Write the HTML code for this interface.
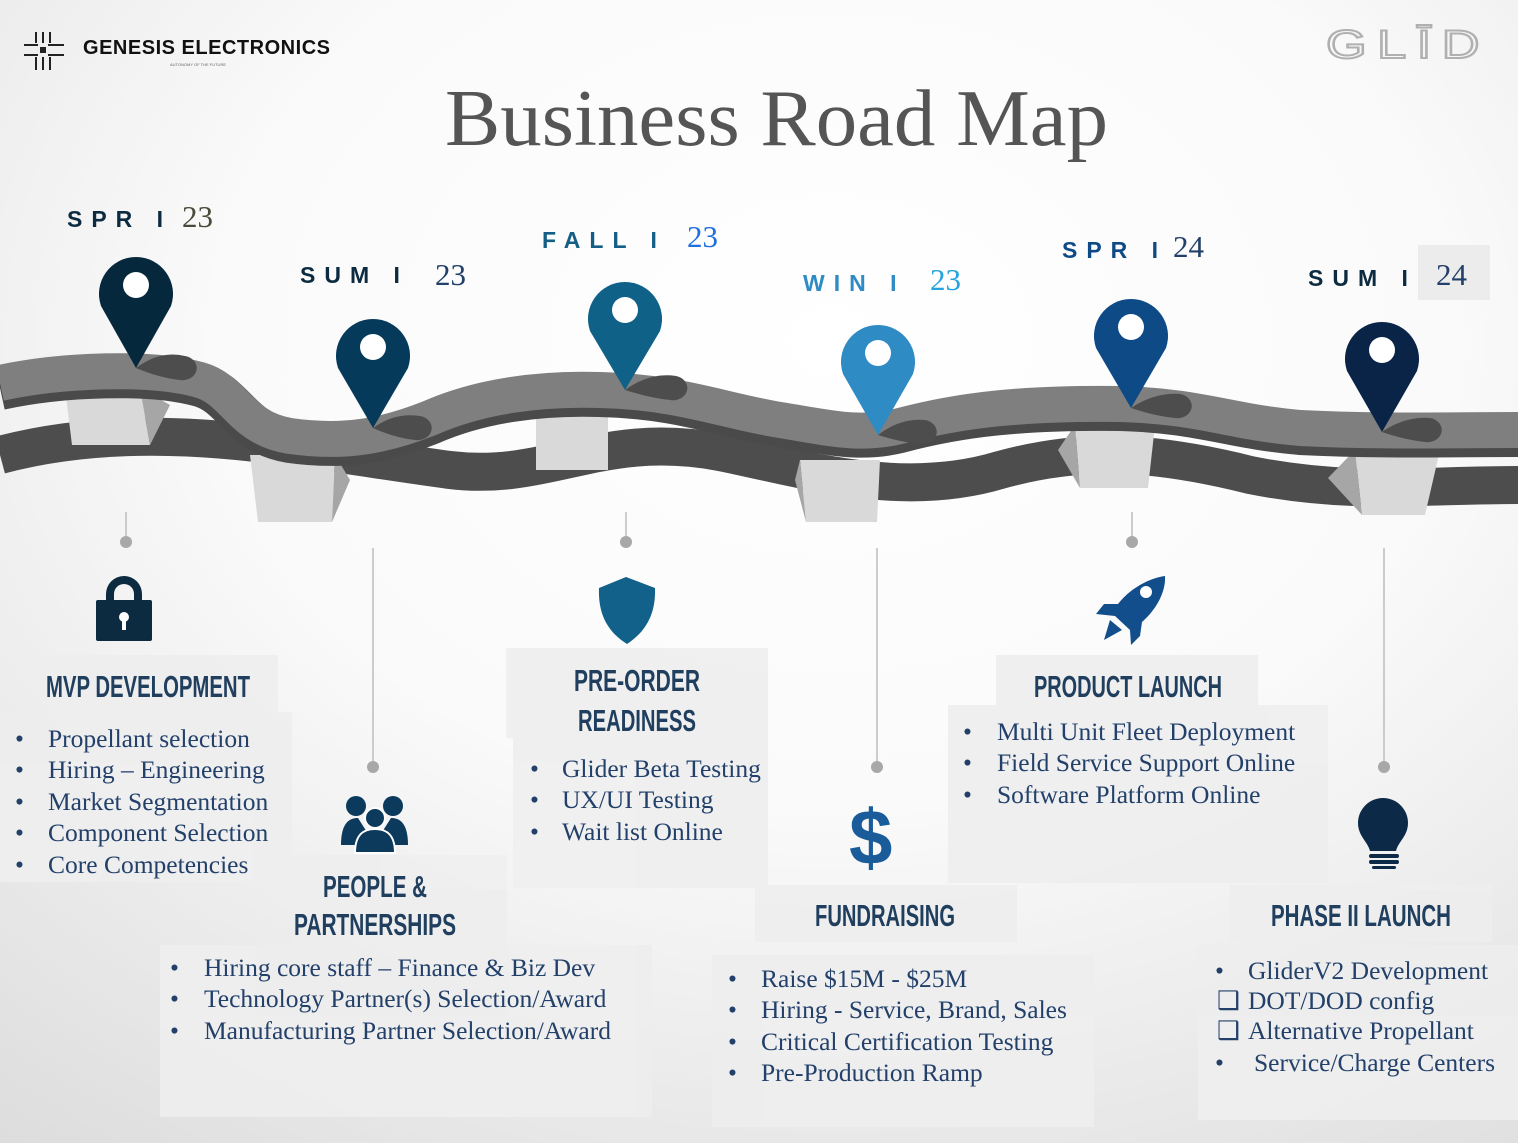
<!DOCTYPE html>
<html><head><meta charset="utf-8"><style>
html,body{margin:0;padding:0;width:1518px;height:1143px;overflow:hidden}
svg{display:block}
.t{font-family:"Liberation Sans Narrow","Liberation Sans",sans-serif;font-weight:bold;fill:#203f5f;font-size:31px}
.b{font-family:"Liberation Serif",serif;fill:#22406a;font-size:25.5px}
.s{font-family:"Liberation Sans",sans-serif;font-weight:bold;font-size:23px}
.n{font-family:"Liberation Serif",serif;font-size:31px}
</style></head><body>
<svg width="1518" height="1143" viewBox="0 0 1518 1143" xmlns="http://www.w3.org/2000/svg">
<defs>
<radialGradient id="bg" cx="0.55" cy="0.3" r="0.9">
<stop offset="0" stop-color="#ffffff"/><stop offset="0.45" stop-color="#fafafa"/><stop offset="1" stop-color="#dcdcdc"/>
</radialGradient>
</defs>
<rect width="1518" height="1143" fill="url(#bg)"/>

<g fill="#222" stroke="#222" stroke-width="2">
<rect x="40" y="47" width="6" height="6" stroke="none"/>
<line x1="24" y1="45" x2="38" y2="45"/><line x1="24" y1="55" x2="38" y2="55"/>
<line x1="48" y1="45" x2="64" y2="45"/><line x1="48" y1="55" x2="64" y2="55"/>
<line x1="36" y1="32" x2="36" y2="43"/><line x1="43" y1="32" x2="43" y2="43"/><line x1="50" y1="32" x2="50" y2="43"/>
<line x1="36" y1="57" x2="36" y2="70"/><line x1="43" y1="57" x2="43" y2="70"/><line x1="50" y1="57" x2="50" y2="70"/>
</g>
<text x="83" y="54" font-family="Liberation Sans,sans-serif" font-weight="bold" font-size="20" fill="#111" textLength="247">GENESIS ELECTRONICS</text>
<text x="170" y="66" font-family="Liberation Sans,sans-serif" font-size="4" fill="#666">AUTONOMY OF THE FUTURE</text>
<text x="1326" y="58" font-family="Liberation Sans,sans-serif" font-size="40" fill="none" stroke="#b0b0b0" stroke-width="2" letter-spacing="8" textLength="164" lengthAdjust="spacingAndGlyphs">GLĪD</text>

<text x="445" y="145" font-family="Liberation Serif,serif" font-size="80" fill="#555" textLength="663" lengthAdjust="spacingAndGlyphs">Business Road Map</text>

<text class="s" x="67" y="227" fill="#0c2a40" letter-spacing="9">SPR I</text><text class="n" x="182" y="227" fill="#4a4a3a">23</text>
<text class="s" x="300" y="283" fill="#0c2a40" letter-spacing="9">SUM I</text><text class="n" x="435" y="285" fill="#23406a">23</text>
<text class="s" x="542" y="248" fill="#155f86" letter-spacing="9">FALL I</text><text class="n" x="687" y="247" fill="#1f6fe0">23</text>
<text class="s" x="803" y="291" fill="#2e8bc4" letter-spacing="9">WIN I</text><text class="n" x="930" y="290" fill="#24a3df">23</text>
<text class="s" x="1062" y="258" fill="#0e4a86" letter-spacing="9">SPR I</text><text class="n" x="1173" y="257" fill="#23406a">24</text>
<rect x="1418" y="245" width="72" height="55" fill="#ececec"/>
<text class="s" x="1308" y="286" fill="#0c2a40" letter-spacing="9">SUM I</text><text class="n" x="1436" y="285" fill="#23406a">24</text>

<path d="M0,455 C150,415 300,450 450,470 C550,482 600,430 720,452 C800,468 900,500 1000,470 C1080,448 1150,450 1250,475 C1350,495 1420,485 1518,485" fill="none" stroke="#4d4d4d" stroke-width="38"/>
<g>
<polygon points="65,388 140,388 150,445 72,445" fill="#d9d9d9"/><polygon points="140,388 170,405 150,445" fill="#a6a6a6"/>
<polygon points="250,455 335,455 332,522 258,522" fill="#d9d9d9"/><polygon points="335,455 350,480 332,522" fill="#a6a6a6"/>
<polygon points="536,405 608,405 608,470 536,470" fill="#d9d9d9"/>
<polygon points="800,460 880,460 877,522 806,522" fill="#d9d9d9"/><polygon points="800,460 806,522 795,480" fill="#a6a6a6"/>
<polygon points="1075,425 1155,425 1148,488 1080,488" fill="#d9d9d9"/><polygon points="1075,425 1080,488 1058,450" fill="#a6a6a6"/>
<polygon points="1355,450 1440,450 1425,515 1362,515" fill="#d9d9d9"/><polygon points="1355,450 1362,515 1328,478" fill="#a6a6a6"/>
</g>
<path d="M0,383 C60,370 150,366 200,380 C235,390 240,428 290,436 C340,443 380,438 430,418 C480,396 540,388 600,390 C680,392 720,410 780,420 C830,428 860,436 900,426 C960,410 1020,403 1120,404 C1200,406 1230,422 1300,428 C1380,432 1450,430 1518,430" fill="none" stroke="#4a4a4a" stroke-width="44" transform="translate(0,5)"/>
<path d="M0,383 C60,370 150,366 200,380 C235,390 240,428 290,436 C340,443 380,438 430,418 C480,396 540,388 600,390 C680,392 720,410 780,420 C830,428 860,436 900,426 C960,410 1020,403 1120,404 C1200,406 1230,422 1300,428 C1380,432 1450,430 1518,430" fill="none" stroke="#7f7f7f" stroke-width="36"/>
<g fill="#4d4d4d">
<path d="M136,368 Q160,350 185,356 A14 12 0 0 1 180,380 Q160,378 136,368Z"/>
<path d="M373,428 Q395,412 420,416 A14 12 0 0 1 415,440 Q395,438 373,428Z"/>
<path d="M625,390 Q650,372 676,376 A14 12 0 0 1 670,400 Q650,398 625,390Z"/>
<path d="M878,435 Q900,418 925,420 A14 12 0 0 1 920,444 Q900,442 878,435Z"/>
<path d="M1131,408 Q1155,392 1180,394 A14 12 0 0 1 1175,418 Q1155,416 1131,408Z"/>
<path d="M1382,432 Q1405,416 1430,418 A14 12 0 0 1 1425,442 Q1405,440 1382,432Z"/>
</g>
<g>
<path d="M136,368 L101,306 A37 37 0 1 1 171,306 Z" fill="#06283d"/><circle cx="136" cy="285" r="13" fill="#fff"/>
<path d="M373,428 L338,368 A37 37 0 1 1 408,368 Z" fill="#063a5a"/><circle cx="373" cy="347" r="13" fill="#fff"/>
<path d="M625,390 L590,331 A37 37 0 1 1 660,331 Z" fill="#0f6187"/><circle cx="625" cy="310" r="13" fill="#fff"/>
<path d="M878,435 L843,374 A37 37 0 1 1 913,374 Z" fill="#2e8bc4"/><circle cx="878" cy="353" r="13" fill="#fff"/>
<path d="M1131,408 L1096,348 A37 37 0 1 1 1166,348 Z" fill="#0d4a86"/><circle cx="1131" cy="327" r="13" fill="#fff"/>
<path d="M1382,432 L1347,371 A37 37 0 1 1 1417,371 Z" fill="#0a2448"/><circle cx="1382" cy="350" r="13" fill="#fff"/>
</g>

<g stroke="#bdbdbd" stroke-width="1.5">
<line x1="126" y1="512" x2="126" y2="540"/><line x1="626" y1="512" x2="626" y2="540"/><line x1="1132" y1="512" x2="1132" y2="540"/>
<line x1="373" y1="548" x2="373" y2="765"/><line x1="877" y1="548" x2="877" y2="765"/><line x1="1384" y1="548" x2="1384" y2="765"/>
</g>
<g fill="#a8a8a8">
<circle cx="126" cy="542" r="6"/><circle cx="626" cy="542" r="6"/><circle cx="1132" cy="542" r="6"/>
<circle cx="373" cy="767" r="6"/><circle cx="877" cy="767" r="6"/><circle cx="1384" cy="767" r="6"/>
</g>

<g fill="#eeeeee" opacity="0.85">
<rect x="18" y="655" width="260" height="57"/><rect x="0" y="712" width="292" height="170"/>
<rect x="292" y="855" width="215" height="92"/><rect x="160" y="945" width="492" height="172"/>
<rect x="506" y="648" width="262" height="90"/><rect x="513" y="738" width="255" height="150"/>
<rect x="755" y="885" width="262" height="57"/><rect x="712" y="955" width="382" height="172"/>
<rect x="996" y="655" width="262" height="50"/><rect x="948" y="705" width="380" height="178"/>
<rect x="1230" y="885" width="262" height="57"/><rect x="1198" y="945" width="320" height="175"/>
</g>

<g fill="#0c2a40">
<path d="M106,600 V594 A18 18 0 0 1 142,594 V600 H134 V594 A10 10 0 0 0 114,594 V600Z"/>
<rect x="96" y="600" width="56" height="41" rx="2"/>
</g>
<circle cx="124" cy="617" r="5" fill="#fff"/><rect x="122" y="618" width="4" height="12" fill="#fff"/>
<path d="M626,577 L655,588 C656,615 645,632 627,644 C608,632 598,615 599,588Z" fill="#11618a"/>
<g fill="#0c3a5c">
<circle cx="356" cy="806" r="10"/><circle cx="393" cy="806" r="10"/>
<path d="M341,845 C341,822 350,818 358,818 L372,840 L372,845Z"/><path d="M408,845 C408,822 399,818 391,818 L377,840 L377,845Z"/>
<circle cx="375" cy="818" r="11" fill="#fff"/><circle cx="375" cy="818" r="9"/>
<path d="M355,853 C355,835 363,829 375,829 C387,829 395,835 395,853Z" stroke="#fff" stroke-width="2"/>
</g>
<text x="849" y="864" font-family="Liberation Sans,sans-serif" font-weight="bold" font-size="78" fill="#1a5c99">$</text>
<g fill="#124e8c">
<path d="M1165,576 C1150,578 1130,588 1118,604 L1104,604 L1096,614 L1115,616 L1130,630 L1131,645 L1140,636 L1142,622 C1158,608 1166,590 1165,576Z"/>
<path d="M1110,620 L1122,630 L1104,640Z"/>
</g>
<circle cx="1146" cy="592" r="6" fill="#fff"/>
<g fill="#0c2a48">
<path d="M1383,798 A25 25 0 0 1 1408,823 C1408,836 1398,842 1396,851 H1370 C1368,842 1358,836 1358,823 A25 25 0 0 1 1383,798Z"/>
<rect x="1369" y="854" width="30" height="4" rx="2"/><rect x="1369" y="860" width="30" height="4" rx="2"/><rect x="1372" y="866" width="24" height="3" rx="1.5"/>
</g>

<g class="t" text-anchor="middle">
<text x="148" y="697" textLength="204" lengthAdjust="spacingAndGlyphs">MVP DEVELOPMENT</text>
<text x="375" y="897" textLength="104" lengthAdjust="spacingAndGlyphs">PEOPLE &amp;</text>
<text x="375" y="935" textLength="162" lengthAdjust="spacingAndGlyphs">PARTNERSHIPS</text>
<text x="637" y="691" textLength="126" lengthAdjust="spacingAndGlyphs">PRE-ORDER</text>
<text x="637" y="731" textLength="118" lengthAdjust="spacingAndGlyphs">READINESS</text>
<text x="885" y="926" textLength="140" lengthAdjust="spacingAndGlyphs">FUNDRAISING</text>
<text x="1128" y="697" textLength="188" lengthAdjust="spacingAndGlyphs">PRODUCT LAUNCH</text>
<text x="1361" y="926" textLength="180" lengthAdjust="spacingAndGlyphs">PHASE II LAUNCH</text>
</g>

<g class="b">
<text x="15" y="747">•</text><text x="48" y="747">Propellant selection</text>
<text x="15" y="778">•</text><text x="48" y="778">Hiring – Engineering</text>
<text x="15" y="810">•</text><text x="48" y="810">Market Segmentation</text>
<text x="15" y="841">•</text><text x="48" y="841">Component Selection</text>
<text x="15" y="873">•</text><text x="48" y="873">Core Competencies</text>

<text x="170" y="976">•</text><text x="204" y="976">Hiring core staff – Finance &amp; Biz Dev</text>
<text x="170" y="1007">•</text><text x="204" y="1007">Technology Partner(s) Selection/Award</text>
<text x="170" y="1039">•</text><text x="204" y="1039">Manufacturing Partner Selection/Award</text>

<text x="530" y="777">•</text><text x="562" y="777">Glider Beta Testing</text>
<text x="530" y="808">•</text><text x="562" y="808">UX/UI Testing</text>
<text x="530" y="840">•</text><text x="562" y="840">Wait list Online</text>

<text x="728" y="987">•</text><text x="761" y="987">Raise  $15M - $25M</text>
<text x="728" y="1018">•</text><text x="761" y="1018">Hiring  - Service, Brand, Sales</text>
<text x="728" y="1050">•</text><text x="761" y="1050">Critical Certification Testing</text>
<text x="728" y="1081">•</text><text x="761" y="1081">Pre-Production Ramp</text>

<text x="963" y="740">•</text><text x="997" y="740">Multi Unit Fleet Deployment</text>
<text x="963" y="771">•</text><text x="997" y="771">Field Service Support Online</text>
<text x="963" y="803">•</text><text x="997" y="803">Software Platform Online</text>

<text x="1215" y="979">•</text><text x="1248" y="979">GliderV2  Development</text>
<text x="1217" y="1009">❑</text><text x="1248" y="1009">DOT/DOD config</text>
<text x="1217" y="1039">❑</text><text x="1248" y="1039">Alternative Propellant</text>
<text x="1215" y="1071">•</text><text x="1254" y="1071">Service/Charge Centers</text>
</g>
</svg>
</body></html>
